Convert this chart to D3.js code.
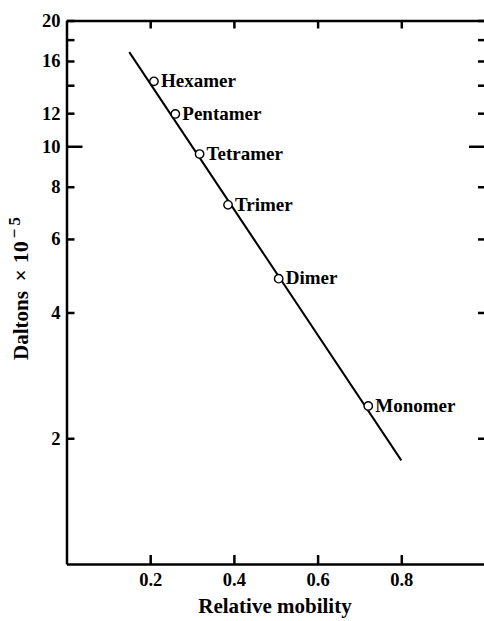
<!DOCTYPE html>
<html>
<head>
<meta charset="utf-8">
<script src="https://cdn.jsdelivr.net/npm/d3@7"></script>
<style>
    body { margin: 0; background: #fff; }
    svg { display: block; font-family: "Liberation Serif", "Times New Roman", serif; font-weight: bold; }
    .axis path, .axis line { stroke: #000; stroke-width: 2.5; }
    .axis text { font-family: "Liberation Serif", "Times New Roman", serif; font-size: 18.5px; font-weight: bold; fill: #000; }
</style>
</head>
<body>
<div id="chart"></div>
<script>
// data
const species = ['Hexamer', 'Pentamer', 'Tetramer', 'Trimer', 'Dimer', 'Monomer'];
const mobility = [0.209, 0.260, 0.318, 0.386, 0.507, 0.721];
const daltons = [14.3, 11.95, 9.58, 7.24, 4.82, 2.39];

// fitted line end points
const fitMobility = [0.15, 0.80];
const fitDaltons = [16.8, 1.77];

// ticks
const xTicks = [0.2, 0.4, 0.6, 0.8];
const yTicks = [2, 4, 6, 8, 10, 12, 14, 16, 18, 20];
const yTickLabels = [2, 4, 6, 8, 10, 12, 16, 20];
const yMajor = 10;

// dimensions
const width = 484;
const height = 621;
const MARGIN_LEFT = 66.5;
const MARGIN_TOP = 20.5;
const PLOT_RIGHT = 485;
const PLOT_BOTTOM = 564;

const $svg = d3.select('#chart').append('svg')
    .attr('width', width)
    .attr('height', height);

// scales
const xScale = d3.scaleLinear().domain([0, 1]).range([MARGIN_LEFT, PLOT_RIGHT]);
const yScale = d3.scaleLog().domain([1, 20]).range([PLOT_BOTTOM, MARGIN_TOP]);

// axes (all ticks point inward)
const yLabel = d => (yTickLabels.includes(d) ? d : '');

const $left = $svg.append('g').attr('class', 'axis y-left')
    .attr('transform', `translate(${MARGIN_LEFT},0)`)
    .call(d3.axisLeft(yScale).tickValues(yTicks).tickSizeInner(-8).tickSizeOuter(0)
        .tickPadding(6).tickFormat(yLabel));
$left.selectAll('.tick').filter(d => d === yMajor).select('line').attr('x2', 16);

const $right = $svg.append('g').attr('class', 'axis y-right')
    .attr('transform', `translate(${PLOT_RIGHT},0)`)
    .call(d3.axisRight(yScale).tickValues(yTicks).tickSizeInner(-7).tickSizeOuter(0)
        .tickFormat(''));
$right.selectAll('.tick').filter(d => d === yMajor).select('line').attr('x2', -16);

$svg.append('g').attr('class', 'axis x-bottom')
    .attr('transform', `translate(0,${PLOT_BOTTOM})`)
    .call(d3.axisBottom(xScale).tickValues(xTicks).tickSizeInner(-9).tickSizeOuter(0)
        .tickPadding(9).tickFormat(d3.format('.1f')));

$svg.append('g').attr('class', 'axis x-top')
    .attr('transform', `translate(0,${MARGIN_TOP})`)
    .call(d3.axisTop(xScale).tickValues(xTicks).tickSizeInner(-8).tickSizeOuter(0)
        .tickFormat(''));

// fitted line
const line = d3.line()
    .x(d => xScale(d[0]))
    .y(d => yScale(d[1]));

$svg.append('path')
    .datum(d3.zip(fitMobility, fitDaltons))
    .attr('d', line)
    .attr('fill', 'none')
    .attr('stroke', '#000')
    .attr('stroke-width', 2);

// points + labels
const points = d3.zip(species, mobility, daltons);

const $pts = $svg.append('g').attr('class', 'g-vis')
    .selectAll('g')
    .data(points)
    .join('g')
    .attr('transform', d => `translate(${xScale(d[1])},${yScale(d[2])})`);

$pts.append('circle')
    .attr('r', 4.2)
    .attr('fill', '#fff')
    .attr('stroke', '#000')
    .attr('stroke-width', 1.4);

$pts.append('text')
    .attr('x', 7)
    .attr('y', -1)
    .attr('dy', '0.35em')
    .style('font-size', '19px')
    .text(d => d[0]);

// axis titles
$svg.append('text')
    .attr('x', 275)
    .attr('y', 613)
    .attr('text-anchor', 'middle')
    .style('font-size', '21px')
    .text('Relative mobility');

// y title, laid out from its baseline start (bottom) upward
const $yTitle = $svg.append('text')
    .attr('transform', 'translate(28,360) rotate(-90)')
    .style('font-size', '21px');
$yTitle.append('tspan').text('Daltons');
$yTitle.append('tspan').attr('dx', 10).text('\u00d7');
$yTitle.append('tspan').attr('dx', 6).style('font-size', '22px').text('10');
$yTitle.append('tspan')
    .attr('dx', 3)
    .attr('dy', '-0.45em')
    .style('font-size', '17px')
    .style('letter-spacing', '3px')
    .text('\u22125');
</script>
</body>
</html>
